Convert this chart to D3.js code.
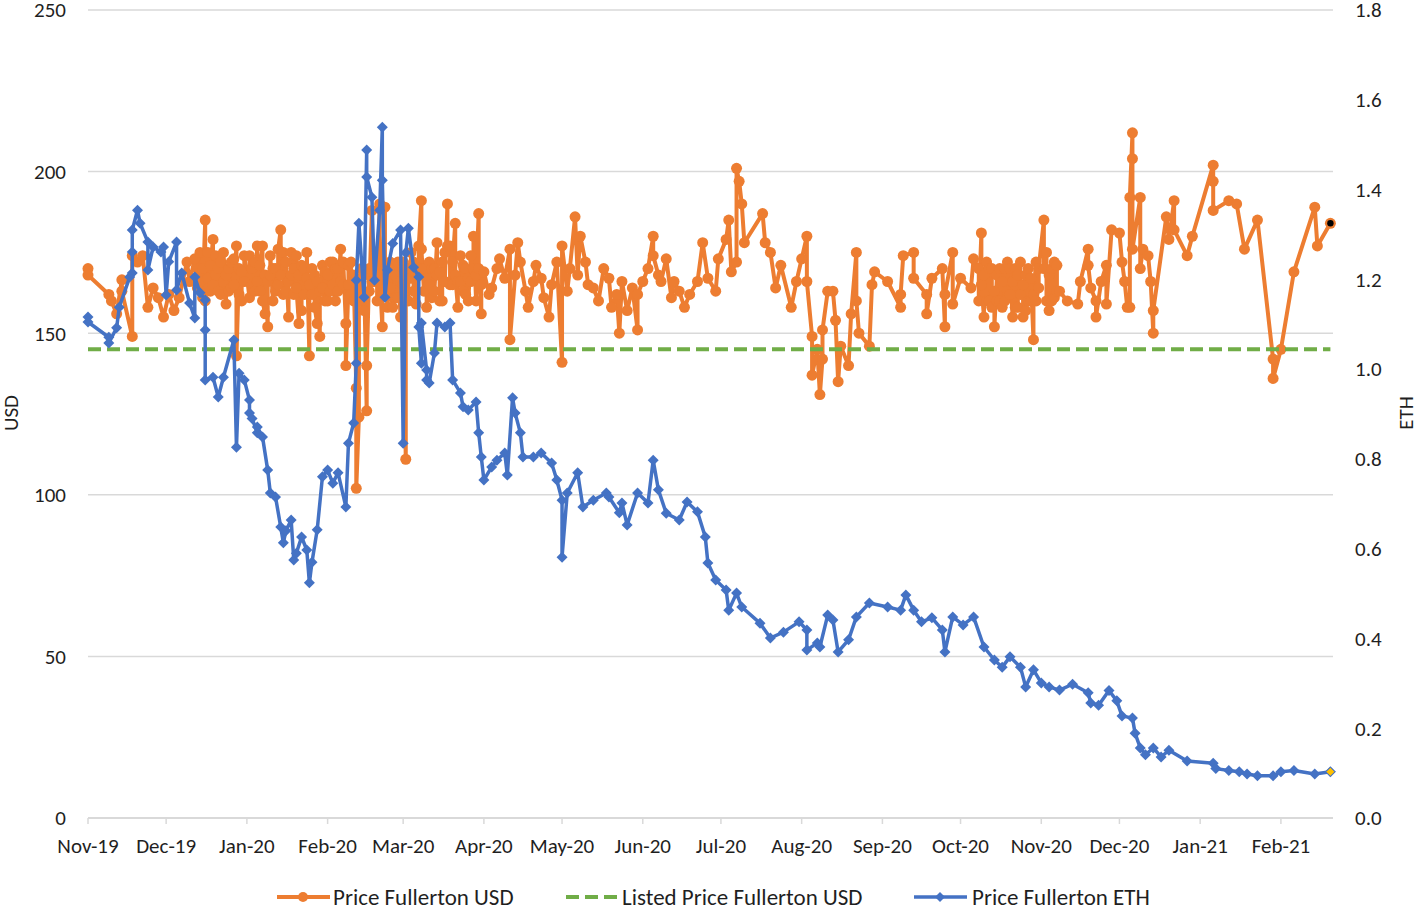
<!DOCTYPE html>
<html lang="en">
<head>
<meta charset="utf-8">
<title>Price Fullerton</title>
<script src="https://cdn.jsdelivr.net/npm/d3@7"></script>
<style>
  body { margin: 0; background: #fff; }
  svg text { font-family: Carlito, Lato, "Open Sans", sans-serif; fill: #1f1f1f; }
</style>
</head>
<body>
<script>

// months covered by the data, and day-of-month of each sale per month
var months = ["2019-11", "2019-12", "2020-01", "2020-02", "2020-03", "2020-04", "2020-05", "2020-06",
              "2020-07", "2020-08", "2020-09", "2020-10", "2020-11", "2020-12", "2021-01", "2021-02"];

// Price Fullerton USD
var usdDays = [
  [1,1,9,10,12,14,14,18,18,20,22,24,26,28,30],
  [2,4,6,9,10,12,13,14,14,15,15,16,16,17,17,18,18,19,19,20,20,21,21,22,22,23,23,24,24,25,25,26,26,27,27,28,28,29,29,30,30,31,31],
  [2,2,3,3,4,4,5,5,6,6,7,7,8,8,9,9,10,10,11,11,12,12,13,13,14,14,15,15,16,16,17,17,18,18,19,19,20,20,21,21,22,22,23,23,24,24,25,25,26,26,27,27,28,28,29,29,30,30,31,31],
  [1,1,2,2,3,3,4,4,5,5,6,6,7,7,8,8,9,9,10,10,11,11,12,12,13,13,14,14,15,15,16,16,17,17,18,18,19,19,20,20,21,21,22,22,23,23,24,24,25,25,26,26,27,27,28,28,29,29],
  [1,1,2,2,3,3,4,4,5,5,6,6,7,7,8,8,9,9,10,10,11,11,12,12,13,13,14,14,15,15,16,16,17,17,18,18,19,19,20,20,21,21,22,22,23,23,24,24,25,25,26,26,27,27,28,28,29,29,30,30,31,31],
  [1,3,4,6,7,9,11,11,13,14,15,17,18,20,21,23,24,26,27,29],
  [1,1,3,4,6,7,8,10,11,13,15,17,19,20,22,23,24,26,28,30,30],
  [1,3,5,5,7,8,10,12,13,15,17,19,22,24,26,29,30],
  [3,4,5,7,7,8,9,10,17,18,20,22,24,28,30],
  [1,3,3,5,5,7,8,9,9,11,13,14,15,16,19,20,22,22,23,27,28,29],
  [3,8,8,9,13,13,18,18,20,24,25,25,28,28],
  [1,5,6,8,8,9,9,10,10,11,11,12,12,13,13,14,14,15,15,16,16,17,17,18,18,19,19,20,20,21,21,22,22,23,23,24,24,25,25,26,26,27,27,28,28,29,29,30,30,31,31],
  [2,2,3,3,4,4,5,5,6,6,7,7,8,11,15,16,19,19,20,22,22,24,26,26,28],
  [1,2,3,4,5,5,6,6,6,9,9,10,12,13,14,14,19,20,22,22,27,29],
  [6,6,6,12,15,18,23,29,29],
  [1,6,14,15,20]
];
var usdPrices = [
  [170,168,162,160,156,166.5,163,149,174,172,174,158,164,161,155],
  [162,157,161,172,166,173,164,175,166,170,161,185,160,175,167,163,171,179,165,168,174,163,170,172,162,166,175,159,168,170,163,164,172,173,165,177,143,170,162,160,169,166,174],
  [161,174,165,170,172,163,177,166,163,171,177,160,156,168,152,166,168,174,160,170,170,163,165,176,182,168,175,162,163,172,155,166,168,175,162,170,174,164,153,168,157,171,170,162,167,175,143,165,162,170,168,158,153,166,149,163,171,164,160,169],
  [168,160,163,172,172,165,160,170,170,163,176,166,165,172,153,140,165,171,172,162,160,168,133,102,124,165,170,160,157,168,126,140,170,163,188,166,166,174,175,160,190,168,152,165,189,170,166,158,172,164,158,170,168,161,161,172,155,166],
  [165,172,111,168,160,170,167,175,172,163,159,168,170,177,191,176,163,170,167,158,172,165,161,170,170,163,178,168,169,160,160,172,175,166,190,177,177,165,165,172,184,168,158,166,166,174,171,163,162,170,167,160,174,166,170,180,160,168,187,170,156,165],
  [169,162,164,170,173,167,176,148,168,178,172,163,158,166,171,167,161,155,165,172],
  [141,177,163,170,186,168,180,172,165,164,160,170,167,158,162,150,166,157,164,151,162],
  [166,170,180,174,168,166,173,161,166,163,158,162,166,178,167,163,173],
  [179,185,169,172,201,197,190,178,187,178,175,164,171,158,166],
  [173,180,166,149,137,145,131,142,151,163,163,154,135,146,140,156,175,160,150,146,165,169],
  [166,158,162,174,175,167,162,156,167,170,152,162,175,159],
  [167,164,173,170,160,181,165,155,168,172,160,160,170,170,158,163,152,168,160,160,170,158,166,170,160,172,163,162,170,155,166,170,158,158,168,172,162,165,155,157,168,170,160,160,167,148,162,172,160,164,170],
  [185,170,175,160,157,168,170,160,161,172,171,163,163,160,159,166,176,171,164,160,155,166,171,159,182],
  [181,172,166,158,158,192,212,204,176,192,170,176,174,166,150,157,186,179,191,182,174,180],
  [202,197,188,191,190,176,185,142,136],
  [145,169,189,177,184]
];

// Price Fullerton ETH
var ethDays = [
  [1,1,9,9,12,13,17,18,18,18,20,21,24,24,26,29,30],
  [1,2,5,5,7,10,12,12,14,16,16,16,19,21,23,27,28,29,31],
  [2,2,3,5,5,7,9,10,12,14,15,16,18,19,20,22,24,25,26,28,30],
  [1,3,5,8,9,11,12,12,13,15,16,16,18,19,21,22,22,23,24,26,29],
  [1,2,3,5,7,7,8,8,10,10,11,13,14,17,19,20,23,24,26,29,30,31],
  [1,4,6,9,10,12,13,15,16,20,23,27,29],
  [1,1,3,7,9,13,18,19,23,24,26,30],
  [3,5,7,10,15,18,22,25,26,29],
  [3,4,7,9,16,20,25,31],
  [3,3,7,8,11,13,15,19,22,27],
  [3,8,10,13,16,20,24,25,28],
  [2,6,10,14,17,20,24,26,29],
  [1,4,8,13,19,20,23,27,30],
  [2,6,7,9,11,14,17,20,27],
  [6,7,12,16,19,23,29],
  [1,6,14,20]
];
var ethPrices = [
  [1.116,1.105,1.071,1.058,1.092,1.138,1.205,1.214,1.261,1.31,1.354,1.325,1.283,1.221,1.272,1.261,1.272],
  [1.165,1.239,1.283,1.176,1.214,1.147,1.114,1.205,1.17,1.154,1.087,0.976,0.982,0.938,0.982,1.065,0.826,0.991,0.976],
  [0.931,0.902,0.89,0.858,0.871,0.849,0.775,0.724,0.715,0.648,0.613,0.64,0.664,0.575,0.59,0.626,0.597,0.524,0.57,0.642,0.76],
  [0.775,0.746,0.769,0.693,0.835,0.88,1.013,1.198,1.325,1.16,1.488,1.428,1.383,1.198,1.354,1.539,1.421,1.16,1.221,1.28,1.31],
  [0.835,1.259,1.314,1.227,1.205,1.094,1.013,1.103,0.998,0.976,0.969,1.036,1.103,1.094,1.103,0.976,0.947,0.916,0.909,0.927,0.858,0.804],
  [0.753,0.782,0.797,0.813,0.764,0.936,0.902,0.858,0.804,0.804,0.813,0.791,0.753],
  [0.708,0.581,0.724,0.769,0.693,0.708,0.724,0.715,0.68,0.702,0.653,0.724],
  [0.702,0.797,0.731,0.679,0.664,0.704,0.682,0.626,0.568,0.53],
  [0.508,0.463,0.501,0.47,0.434,0.401,0.414,0.437],
  [0.419,0.374,0.39,0.381,0.452,0.441,0.37,0.397,0.448,0.479],
  [0.47,0.463,0.497,0.463,0.437,0.446,0.419,0.37,0.448],
  [0.43,0.448,0.381,0.352,0.336,0.359,0.336,0.292,0.33],
  [0.301,0.292,0.285,0.298,0.279,0.256,0.251,0.284,0.261],
  [0.227,0.223,0.189,0.156,0.141,0.156,0.136,0.151,0.127],
  [0.122,0.11,0.106,0.103,0.098,0.094,0.094],
  [0.103,0.106,0.098,0.103]
];

var listedPrice = 145;

var usdTicks = [0, 50, 100, 150, 200, 250];
var ethTicks = [0, 0.2, 0.4, 0.6, 0.8, 1.0, 1.2, 1.4, 1.6, 1.8];
var seriesNames = ["Price Fullerton USD", "Listed Price Fullerton USD", "Price Fullerton ETH"];

var colors = { usd: "#ED7D31", listed: "#70AD47", eth: "#4472C4" };

//Width and height
var w = 1416;
var h = 907;
var plotLeft = 88, plotRight = 1333, plotTop = 10, plotBottom = 818;
var tickFont = 21, legendFont = 23;

var parseDate = d3.timeParse("%Y-%m-%d");

function build(days, values) {
	var out = [];
	days.forEach(function(ds, i) {
		ds.forEach(function(day, j) {
			out.push({ date: parseDate(months[i] + "-" + String(day).padStart(2, "0")), value: values[i][j] });
		});
	});
	return out;
}

var usdData = build(usdDays, usdPrices);
var ethData = build(ethDays, ethPrices);

var svg = d3.select("body")
			.append("svg")
			.attr("width", w)
			.attr("height", h);

var xScale = d3.scaleTime()
			.domain([parseDate("2019-11-01"), parseDate("2021-02-21")])
			.range([plotLeft, plotRight]);

var yUsd = d3.scaleLinear().domain([0, 250]).range([plotBottom, plotTop]);
var yEth = d3.scaleLinear().domain([0, 1.8]).range([plotBottom, plotTop]);

//Gridlines
svg.append("g")
	.selectAll("line")
	.data(usdTicks.slice(1))
	.enter()
	.append("line")
	.attr("x1", plotLeft)
	.attr("x2", plotRight)
	.attr("y1", function(d) { return yUsd(d); })
	.attr("y2", function(d) { return yUsd(d); })
	.attr("stroke", "#D9D9D9")
	.attr("stroke-width", 1.5);

//X axis line and month ticks
var monthTicks = d3.timeMonth.range(parseDate("2019-11-01"), parseDate("2021-02-21"));
svg.append("line")
	.attr("x1", plotLeft).attr("x2", plotRight)
	.attr("y1", plotBottom).attr("y2", plotBottom)
	.attr("stroke", "#D9D9D9")
	.attr("stroke-width", 2);

svg.append("g")
	.selectAll("line")
	.data(monthTicks)
	.enter()
	.append("line")
	.attr("x1", function(d) { return xScale(d); })
	.attr("x2", function(d) { return xScale(d); })
	.attr("y1", plotBottom)
	.attr("y2", plotBottom + 6)
	.attr("stroke", "#D9D9D9")
	.attr("stroke-width", 1.5);

var fmtMonth = d3.timeFormat("%b-%y");
svg.append("g")
	.selectAll("text")
	.data(monthTicks)
	.enter()
	.append("text")
	.attr("x", function(d) { return xScale(d); })
	.attr("y", 853)
	.attr("text-anchor", "middle")
	.attr("font-size", tickFont)
	.text(function(d) { return fmtMonth(d); });

//Left and right tick labels
svg.append("g")
	.selectAll("text")
	.data(usdTicks)
	.enter()
	.append("text")
	.attr("x", 66)
	.attr("y", function(d) { return yUsd(d); })
	.attr("dy", "0.35em")
	.attr("text-anchor", "end")
	.attr("font-size", tickFont)
	.text(function(d) { return d; });

svg.append("g")
	.selectAll("text")
	.data(ethTicks)
	.enter()
	.append("text")
	.attr("x", 1355)
	.attr("y", function(d) { return yEth(d); })
	.attr("dy", "0.35em")
	.attr("font-size", tickFont)
	.text(function(d) { return d3.format(".1f")(d); });

//Axis titles
svg.append("text")
	.attr("transform", "translate(18,413) rotate(-90)")
	.attr("text-anchor", "middle")
	.attr("font-size", tickFont)
	.text("USD");

svg.append("text")
	.attr("transform", "translate(1413,413) rotate(-90)")
	.attr("text-anchor", "middle")
	.attr("font-size", tickFont)
	.text("ETH");

var diamond = function(r) {
	return "M0," + (-r) + "L" + r + ",0L0," + r + "L" + (-r) + ",0Z";
};

//Orange series
var usdLine = d3.line()
	.x(function(d) { return xScale(d.date); })
	.y(function(d) { return yUsd(d.value); });

svg.append("path")
	.datum(usdData)
	.attr("d", usdLine)
	.attr("fill", "none")
	.attr("stroke", colors.usd)
	.attr("stroke-width", 4)
	.attr("stroke-linejoin", "round");

svg.append("g")
	.selectAll("circle")
	.data(usdData)
	.enter()
	.append("circle")
	.attr("cx", function(d) { return xScale(d.date); })
	.attr("cy", function(d) { return yUsd(d.value); })
	.attr("r", 5.5)
	.attr("fill", colors.usd);

var lastUsd = usdData[usdData.length - 1];
svg.append("circle")
	.attr("cx", xScale(lastUsd.date))
	.attr("cy", yUsd(lastUsd.value))
	.attr("r", 3.2)
	.attr("fill", "#000");

//Listed price
var span = [usdData[0].date, lastUsd.date];
svg.append("line")
	.attr("x1", xScale(span[0]))
	.attr("x2", xScale(span[1]))
	.attr("y1", yUsd(listedPrice))
	.attr("y2", yUsd(listedPrice))
	.attr("stroke", colors.listed)
	.attr("stroke-width", 4)
	.attr("stroke-dasharray", "13,6");

//Blue series
var ethLine = d3.line()
	.x(function(d) { return xScale(d.date); })
	.y(function(d) { return yEth(d.value); });

svg.append("path")
	.datum(ethData)
	.attr("d", ethLine)
	.attr("fill", "none")
	.attr("stroke", colors.eth)
	.attr("stroke-width", 3.5)
	.attr("stroke-linejoin", "round");

svg.append("g")
	.selectAll("path")
	.data(ethData)
	.enter()
	.append("path")
	.attr("transform", function(d) { return "translate(" + xScale(d.date) + "," + yEth(d.value) + ")"; })
	.attr("d", diamond(5.5))
	.attr("fill", colors.eth);

var lastEth = ethData[ethData.length - 1];
svg.append("path")
	.attr("transform", "translate(" + xScale(lastEth.date) + "," + yEth(lastEth.value) + ")")
	.attr("d", diamond(4.5))
	.attr("fill", "#FFC000")
	.attr("stroke", colors.eth)
	.attr("stroke-width", 1);

//Legend
var legend = svg.append("g").attr("transform", "translate(0,897)");
var legendX = [277, 566, 914];

legend.append("line").attr("x1", 277).attr("x2", 330)
	.attr("stroke", colors.usd).attr("stroke-width", 4);
legend.append("circle").attr("cx", 303).attr("cy", 0).attr("r", 5).attr("fill", colors.usd);

legend.append("line").attr("x1", 566).attr("x2", 617)
	.attr("stroke", colors.listed).attr("stroke-width", 4).attr("stroke-dasharray", "13,6");

legend.append("line").attr("x1", 914).attr("x2", 967)
	.attr("stroke", colors.eth).attr("stroke-width", 3.5);
legend.append("path").attr("transform", "translate(940,0)").attr("d", diamond(5)).attr("fill", colors.eth);

legend.selectAll("text")
	.data(seriesNames)
	.enter()
	.append("text")
	.attr("x", function(d, i) { return legendX[i] + [56, 56, 58][i]; })
	.attr("y", 0)
	.attr("dy", "0.35em")
	.attr("font-size", legendFont)
	.text(function(d) { return d; });

</script>
</body>
</html>
